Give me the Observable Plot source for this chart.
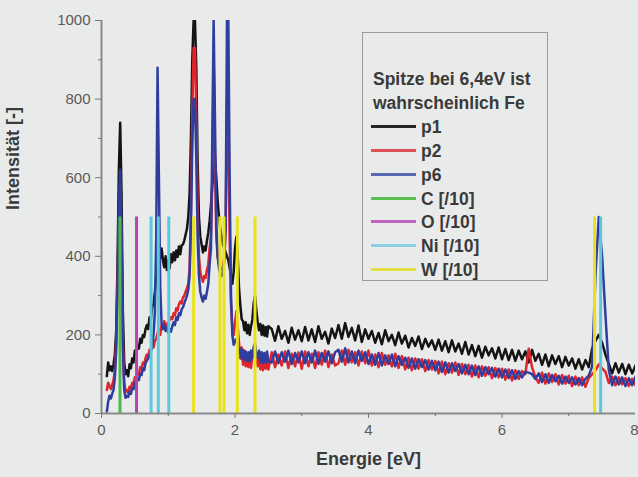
<!DOCTYPE html>
<html><head><meta charset="utf-8">
<script src="https://cdn.jsdelivr.net/npm/d3@7"></script>
<script src="https://cdn.jsdelivr.net/npm/@observablehq/plot@0.6"></script>
<style>
html,body{margin:0;padding:0;background:#e9ebea;}
#wrap{position:relative;width:638px;height:477px;font-family:"Liberation Sans",Arial,sans-serif;}
#legend{position:absolute;left:362px;top:32px;width:186px;height:249px;border:1px solid #9c9c9c;box-sizing:border-box;}
.row{position:absolute;left:0;height:24px;line-height:24px;font-size:17.5px;font-weight:bold;color:#3a3a3a;white-space:nowrap;}
.sw{position:absolute;left:8px;top:10px;width:45px;height:3px;}
</style></head>
<body><div id="wrap"></div>
<script>
const energy = [
0.08,0.10,0.12,0.14,0.16,0.18,0.20,0.22,0.24,0.26,
0.28,0.30,0.32,0.34,0.36,0.38,0.40,0.42,0.44,0.46,
0.48,0.50,0.52,0.54,0.56,0.58,0.60,0.62,0.64,0.66,
0.68,0.70,0.72,0.74,0.76,0.78,0.80,0.82,0.84,0.86,
0.88,0.90,0.92,0.94,0.96,0.98,1.00,1.02,1.04,1.06,
1.08,1.10,1.12,1.14,1.16,1.18,1.20,1.22,1.24,1.26,
1.28,1.30,1.32,1.34,1.36,1.38,1.40,1.42,1.44,1.46,
1.48,1.50,1.52,1.54,1.56,1.58,1.60,1.62,1.64,1.66,
1.68,1.70,1.72,1.74,1.76,1.78,1.80,1.82,1.84,1.86,
1.88,1.90,1.92,1.94,1.96,1.98,2.00,2.02,2.04,2.06,
2.08,2.10,2.12,2.14,2.16,2.18,2.20,2.22,2.24,2.26,
2.28,2.30,2.32,2.34,2.36,2.38,2.40,2.42,2.44,2.46,
2.48,2.50,
2.55,2.60,2.65,2.70,2.75,2.80,2.85,2.90,2.95,3.00,
3.05,3.10,3.15,3.20,3.25,3.30,3.35,3.40,3.45,3.50,
3.55,3.60,3.65,3.70,3.75,3.80,3.85,3.90,3.95,4.00,
4.05,4.10,4.15,4.20,4.25,4.30,4.35,4.40,4.45,4.50,
4.55,4.60,4.65,4.70,4.75,4.80,4.85,4.90,4.95,5.00,
5.05,5.10,5.15,5.20,5.25,5.30,5.35,5.40,5.45,5.50,
5.55,5.60,5.65,5.70,5.75,5.80,5.85,5.90,5.95,6.00,
6.05,6.10,6.15,6.20,6.25,6.30,6.35,6.40,6.45,6.50,
6.55,6.60,6.65,6.70,6.75,6.80,6.85,6.90,6.95,7.00,
7.05,7.10,7.15,7.20,7.25,7.30,7.35,7.40,7.45,7.50,
7.55,7.60,7.65,7.70,7.75,7.80,7.85,7.90,7.95,8.00
];
const p1 = [
95,130,110,120,108,125,150,210,380,620,
740,560,260,130,100,110,95,125,115,140,
130,160,150,175,165,190,180,200,195,215,
225,215,245,240,270,280,310,350,380,405,
395,420,390,372,400,365,390,370,405,385,
410,390,415,398,425,405,428,430,440,455,
470,500,560,700,900,1000,1000,880,640,500,
450,430,410,425,415,440,460,490,530,580,
620,650,600,540,500,470,450,430,420,410,
400,390,370,350,330,360,420,450,400,320,
275,240,235,212,232,204,226,200,222,238,
280,300,262,232,212,228,200,224,198,220,
196,222,
215,185,222,190,210,180,218,188,212,184,
220,186,214,182,222,190,208,178,216,192,
225,190,230,195,218,186,224,182,214,190,
210,180,205,176,212,184,200,174,206,178,
198,168,192,172,196,164,190,170,186,162,
188,160,184,156,186,158,178,152,182,150,
174,146,172,142,170,148,166,140,168,138,
164,136,162,134,160,138,158,130,162,134,
152,124,150,120,148,126,146,118,144,122,
140,114,138,112,136,118,165,185,200,180,
150,126,102,128,104,126,100,124,102,122
];
const p2 = [
60,78,70,62,72,85,110,180,330,500,
580,420,180,80,55,60,52,68,62,78,
75,92,88,105,100,118,112,130,125,142,
150,145,162,158,172,168,185,190,205,215,
200,225,215,235,228,220,232,238,245,240,
255,250,268,262,278,285,280,295,300,310,
318,330,370,520,760,930,930,760,520,400,
360,345,335,350,345,365,380,420,450,600,
900,650,450,400,380,370,365,375,400,470,
800,700,450,280,220,200,230,260,220,180,
140,168,124,160,120,152,118,150,116,148,
150,170,140,120,148,112,140,110,146,114,
140,112,
156,118,150,122,158,116,152,120,155,114,
158,120,152,116,156,124,160,118,150,122,
128,160,124,162,130,156,122,158,128,160,
122,150,118,154,124,148,120,152,116,146,
112,142,110,140,114,138,108,136,112,134,
102,132,100,128,104,130,98,126,100,124,
94,122,92,120,96,118,90,116,92,114,
86,112,84,110,88,108,100,165,118,92,
78,104,76,102,80,100,74,98,76,96,
70,94,72,92,68,90,100,110,125,115,
106,78,94,72,92,74,90,70,88,72
];
const p6 = [
5,30,45,38,50,60,90,160,320,520,
620,460,170,60,40,45,42,55,50,65,
62,78,75,90,85,102,98,115,110,128,
135,140,150,160,175,200,260,450,880,600,
320,230,215,225,210,220,205,215,208,222,
232,225,245,238,255,250,265,270,280,290,
300,315,350,480,680,800,800,650,450,350,
310,295,285,300,292,310,330,380,420,700,
1000,750,480,400,370,355,350,360,390,480,
1000,1000,600,300,200,175,185,190,165,155,
165,140,162,136,158,134,156,132,160,140,
170,178,150,142,160,130,156,128,154,130,
158,132,
130,158,128,156,132,160,126,154,130,158,
128,156,130,160,126,154,132,158,128,156,
162,132,166,130,158,128,160,134,156,126,
150,124,154,122,148,126,150,120,146,124,
142,116,140,114,138,118,136,112,134,110,
132,106,130,104,128,108,126,102,124,100,
122,98,120,96,118,100,116,94,114,92,
112,90,110,88,108,92,106,104,100,88,
102,80,100,78,98,82,96,76,94,78,
92,74,90,72,88,96,120,350,500,400,
250,110,72,94,74,92,70,90,72,94
];
// element reference lines (intensity /10), energies in keV
const lineC = [0.277];
const lineO = [0.525];
const lineNi = [0.743, 0.851, 1.008, 7.478];
const lineW = [1.38, 1.775, 1.835, 2.035, 2.30, 7.387];
const refHeight = 500;
const xTicks = [0, 2, 4, 6];
const xLast = [8];
const xMinor = [1, 3, 5, 7];
const yTicks = [0, 200, 400, 600, 800, 1000];
const yMinor = [100, 300, 500, 700, 900];
const legendTitle = ["Spitze bei 6,4eV ist", "wahrscheinlich Fe"];
const legendNames = ["p1", "p2", "p6", "C [/10]", "O [/10]", "Ni [/10]", "W [/10]"];
const colors = {p1:"#141414", p2:"#e0242c", p6:"#2e3d9e", C:"#4cb848", O:"#b444b4", Ni:"#5cc8dc", W:"#e8e21c"};
const legendColors = ["#262626", "#e0505a", "#5a68b4", "#5cbf54", "#bc64bc", "#8ad0e0", "#e2e040"];

const spec = (arr, col) => Plot.line(energy, {x: d => d, y: (d, i) => arr[i], stroke: col, strokeWidth: 2.5, clip: true});
const ref = (arr, col) => Plot.ruleX(arr, {x: d => d, y1: 0, y2: refHeight, stroke: col, strokeWidth: 3});

const chart = Plot.plot({
  width: 638, height: 477,
  marginLeft: 101, marginRight: 3, marginTop: 20, marginBottom: 64,
  style: {background: "#e9ebea", fontFamily: "Liberation Sans, Arial, sans-serif"},
  x: {domain: [0, 8]},
  y: {domain: [0, 1000]},
  marks: [
    spec(p1, colors.p1),
    spec(p2, colors.p2),
    spec(p6, colors.p6),
    ref(lineC, colors.C),
    ref(lineO, colors.O),
    ref(lineNi, colors.Ni),
    ref(lineW, colors.W),
    Plot.ruleX([0], {stroke: "#8a8a8a", strokeWidth: 2}),
    Plot.ruleY([0], {stroke: "#8a8a8a", strokeWidth: 2}),
    Plot.axisX({ticks: xTicks, tickSize: 5, tickPadding: 6, fontSize: 15, stroke: "#777", fill: "#5a5a5a", label: null, tickFormat: d => String(d)}),
    Plot.axisX({ticks: xLast, tickSize: 5, tickPadding: 6, fontSize: 15, stroke: "#777", fill: "#5a5a5a", label: null, textAnchor: "end", dx: 3, tickFormat: d => String(d)}),
    Plot.axisX({ticks: xMinor, tickSize: 3, text: null, stroke: "#777", label: null}),
    Plot.axisY({ticks: yTicks, tickSize: 6, tickPadding: 5, fontSize: 15, stroke: "#777", fill: "#5a5a5a", label: null, tickFormat: d => String(d)}),
    Plot.axisY({ticks: yMinor, tickSize: 3, text: null, stroke: "#777", label: null}),
    Plot.text(["Energie [eV]"], {frameAnchor: "bottom", dy: 51, fontSize: 18, fontWeight: "bold", fill: "#3a3a3a"}),
    Plot.text(["Intensität [-]"], {frameAnchor: "left", dx: -88, dy: -7, rotate: -90, fontSize: 18, fontWeight: "bold", fill: "#3a3a3a"})
  ]
});
const wrap = document.getElementById("wrap");
wrap.appendChild(chart);
const leg = document.createElement("div");
leg.id = "legend";
legendTitle.forEach((t, i) => {
  const r = document.createElement("div");
  r.className = "row";
  r.style.top = (34 + i * 23.9) + "px";
  r.style.left = "10px";
  r.textContent = t;
  leg.appendChild(r);
});
legendNames.forEach((n, j) => {
  const i = j + 2;
  const r = document.createElement("div");
  r.className = "row";
  r.style.top = (34 + i * 23.9) + "px";
  r.style.width = "180px";
  const sw = document.createElement("span");
  sw.className = "sw";
  sw.style.background = legendColors[j];
  const tx = document.createElement("span");
  tx.style.position = "absolute";
  tx.style.left = "58px";
  tx.textContent = n;
  r.appendChild(sw); r.appendChild(tx);
  leg.appendChild(r);
});
wrap.appendChild(leg);
</script>
</body></html>
